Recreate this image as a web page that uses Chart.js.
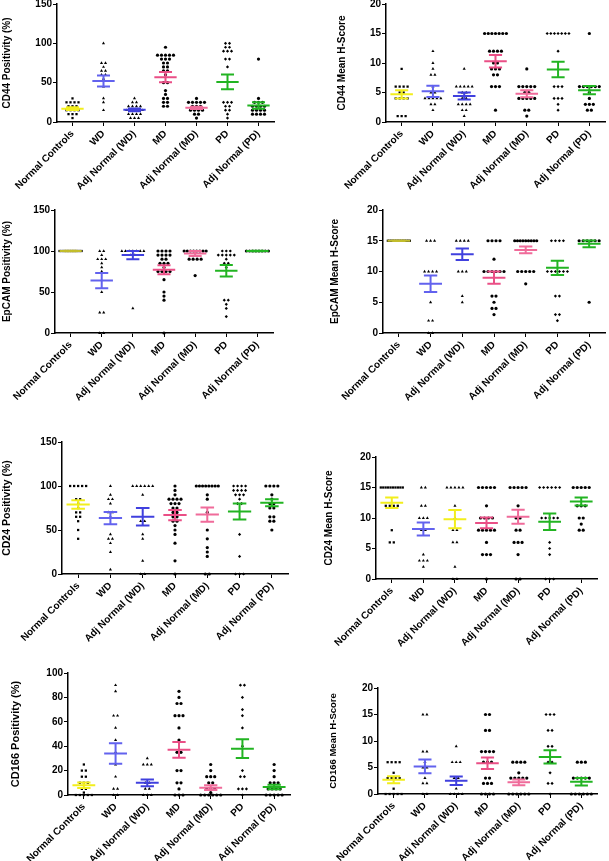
<!DOCTYPE html>
<html>
<head>
<meta charset="utf-8">
<script src="https://cdn.jsdelivr.net/npm/chart.js@4.4.1/dist/chart.umd.min.js"></script>
<style>
  body { margin: 0; background: #fff; }
  #page { position: relative; width: 609px; height: 861px; overflow: hidden; background: #fff; }
  #page canvas { position: absolute; }
</style>
</head>
<body>
<div id="page"></div>
<script>
// Groups shared by every panel
const groups = ['Normal Controls', 'WD', 'Adj Normal (WD)', 'MD', 'Adj Normal (MD)', 'PD', 'Adj Normal (PD)'];
const pointShapes = ['rect', 'triangle', 'triangle', 'circle', 'circle', 'rectRot', 'circle'];
const barColors = ['#f2ee1c', '#6262ee', '#4040de', '#ea4f86', '#f06b9a', '#22b422', '#22b422'];

// CD44 Positivity (%)
const cd44PosValues = [
  [30, 25, 25, 25, 25, 20, 20, 20, 15, 15, 15, 15, 10, 10, 10, 5],
  [100, 75, 75, 70, 65, 65, 60, 60, 55, 45, 30, 25, 15],
  [30, 25, 25, 20, 20, 20, 20, 15, 15, 15, 15, 15, 10, 10, 10, 10, 5, 5, 5],
  [95, 85, 85, 85, 85, 85, 80, 80, 80, 75, 75, 70, 70, 65, 65, 60, 50, 50, 40, 35, 30, 30, 25, 25, 20, 20],
  [30, 25, 25, 25, 25, 25, 20, 20, 20, 15, 15, 15, 15, 10, 10, 5],
  [100, 100, 95, 95, 90, 90, 90, 80, 80, 70, 25, 25, 25, 20, 20, 15, 15, 10, 5],
  [80, 30, 25, 25, 25, 20, 20, 20, 20, 15, 15, 15, 15, 10, 10, 10, 10]
];
const cd44PosMean = [17, 52, 15.5, 57, 18, 51, 21];
const cd44PosSem = [1.8, 7, 1.8, 6.5, 1.5, 9.5, 4];

// CD44 Mean H-Score
const cd44HValues = [
  [9, 6, 6, 6, 6, 5, 5, 4, 4, 4, 4, 1, 1, 1],
  [12, 10, 9, 8, 8, 6, 5, 5, 4, 4, 4, 4, 4, 3, 3, 2],
  [9, 6, 6, 6, 6, 6, 5, 5, 4, 4, 3, 3, 3, 3, 2, 2, 1],
  [15, 15, 15, 15, 15, 15, 15, 12, 12, 12, 12, 10, 10, 9, 9, 9, 8, 8, 6, 6, 6, 2],
  [9, 6, 6, 6, 6, 6, 5, 5, 4, 4, 4, 4, 4, 2, 2, 1],
  [15, 15, 15, 15, 15, 15, 15, 12, 6, 6, 6, 4, 4, 4, 3, 2],
  [15, 6, 6, 6, 6, 6, 6, 5, 4, 3, 3, 3, 2, 2]
];
const cd44HMean = [4.7, 5.2, 4.4, 10.3, 4.8, 8.9, 5.4];
const cd44HSem = [0.7, 0.95, 0.6, 1.05, 0.6, 1.3, 0.7];

// EpCAM Positivity (%)
const epcamPosValues = [
  [100, 100, 100, 100, 100, 100, 100, 100, 100, 100, 100, 100, 100, 100],
  [100, 100, 95, 90, 90, 90, 85, 80, 75, 50, 25, 25, 0, 0],
  [100, 100, 100, 100, 100, 100, 100, 95, 95, 30],
  [100, 100, 100, 100, 95, 95, 95, 95, 90, 90, 85, 85, 85, 80, 75, 75, 75, 75, 65, 50, 45, 40, 0],
  [100, 100, 100, 100, 100, 100, 100, 100, 90, 90, 90, 90, 70],
  [100, 100, 100, 95, 95, 95, 95, 95, 90, 85, 85, 80, 40, 40, 35, 30, 20],
  [100, 100, 100, 100, 100, 100, 100, 100]
];
const epcamPosMean = [100, 64, 95, 77, 97, 76, 100];
const epcamPosSem = [0.3, 9.3, 5, 5.5, 3, 7, 0.3];

// EpCAM Mean H-Score
const epcamHValues = [
  [15, 15, 15, 15, 15, 15, 15, 15, 15, 15, 15, 15, 15, 15],
  [15, 15, 15, 10, 10, 10, 10, 5, 2, 2, 0, 0],
  [15, 15, 15, 15, 10, 10, 10, 6, 5],
  [15, 15, 15, 15, 12, 10, 10, 10, 10, 10, 10, 6, 6, 5, 4, 4, 3],
  [15, 15, 15, 15, 15, 15, 15, 15, 15, 10, 10, 10, 10, 10, 8],
  [15, 15, 15, 15, 10, 10, 10, 10, 10, 10, 6, 6, 3, 3, 2],
  [15, 15, 15, 15, 15, 15, 5]
];
const epcamHMean = [15, 8, 12.8, 9, 13.5, 10.6, 14.5];
const epcamHSem = [0.05, 1.35, 0.95, 1, 0.55, 1.15, 0.55];

// CD24 Positivity (%)
const cd24PosValues = [
  [100, 100, 100, 100, 100, 85, 85, 80, 75, 70, 70, 65, 65, 60, 50, 40],
  [100, 90, 85, 85, 80, 70, 70, 65, 45, 40, 40, 35, 25, 5],
  [100, 100, 100, 100, 100, 100, 90, 60, 60, 45, 40, 15, 0, 0],
  [100, 95, 90, 85, 85, 85, 85, 80, 80, 80, 75, 75, 70, 70, 65, 65, 60, 60, 55, 50, 45, 35, 15, 0],
  [100, 100, 100, 100, 100, 100, 100, 100, 90, 85, 70, 50, 40, 30, 25, 20, 0, 0],
  [100, 100, 100, 100, 95, 95, 95, 95, 90, 90, 90, 85, 80, 80, 45, 20, 0, 0, 0],
  [100, 100, 100, 100, 90, 85, 80, 80, 75, 75, 65, 65, 60, 60, 50]
];
const cd24PosMean = [79, 63.5, 65, 67, 67.5, 71, 81];
const cd24PosSem = [4.8, 7, 10, 5.8, 8, 9, 4];

// CD24 Mean H-Score
const cd24HValues = [
  [15, 15, 15, 15, 15, 15, 15, 15, 15, 15, 12, 12, 12, 12, 8, 6, 6],
  [15, 15, 12, 12, 10, 10, 10, 8, 8, 4, 3, 3, 3, 2],
  [15, 15, 15, 15, 15, 12, 10, 8, 8, 6, 6, 2, 0, 0],
  [15, 15, 15, 15, 15, 12, 10, 10, 10, 10, 8, 8, 8, 8, 8, 6, 4, 4, 4, 0],
  [15, 15, 15, 15, 15, 12, 10, 10, 8, 8, 6, 6, 6, 4, 0, 0],
  [15, 15, 15, 15, 15, 15, 10, 10, 10, 10, 10, 6, 5, 4, 0, 0, 0],
  [15, 15, 15, 15, 15, 12, 12, 12, 10, 10, 9, 8, 8]
];
const cd24HMean = [12.5, 8.2, 9.8, 9.2, 10.2, 9.4, 12.7];
const cd24HSem = [0.85, 1.05, 1.5, 0.9, 1.15, 1.35, 0.65];

// CD166 Positivity (%)
const cd166PosValues = [
  [25, 20, 20, 15, 15, 10, 10, 10, 5, 5, 2, 0, 0, 0, 0, 0],
  [90, 85, 65, 65, 55, 45, 35, 25, 15, 5, 5, 0, 0],
  [30, 25, 25, 25, 10, 10, 5, 5, 0, 0, 0],
  [85, 80, 75, 75, 65, 65, 65, 55, 45, 35, 35, 20, 20, 10, 10, 5, 0, 0, 0],
  [25, 20, 15, 15, 15, 10, 10, 5, 5, 5, 2, 0, 0, 0, 0, 0, 0],
  [90, 90, 80, 70, 65, 55, 40, 20, 15, 15, 5, 5, 5, 0],
  [25, 20, 15, 10, 10, 10, 5, 5, 5, 5, 0, 0, 0, 0, 0]
];
const cd166PosMean = [8, 34, 10, 37, 6, 38, 6.5];
const cd166PosSem = [2.3, 8.4, 2.8, 6.5, 2, 7.6, 1.8];

// CD166 Mean H-Score
const cd166HValues = [
  [6, 6, 6, 6, 4, 3, 3, 3, 3, 1, 0, 0, 0, 0, 0],
  [15, 15, 8, 8, 6, 5, 5, 3, 2, 2, 0, 0],
  [9, 6, 6, 6, 3, 3, 1, 0, 0, 0, 0],
  [15, 15, 12, 12, 8, 8, 8, 8, 6, 6, 6, 3, 3, 2, 2, 2, 0, 0, 0, 0],
  [6, 6, 6, 6, 4, 3, 3, 3, 3, 3, 0, 0, 0, 0, 0, 0],
  [15, 15, 15, 12, 12, 9, 9, 6, 6, 4, 2, 2, 0],
  [6, 6, 6, 3, 3, 3, 3, 3, 0, 0, 0, 0, 0, 0]
];
const cd166HMean = [2.7, 5.2, 2.5, 5.8, 2.2, 7, 2.3];
const cd166HSem = [0.65, 1.3, 0.8, 1.1, 0.55, 1.25, 0.7];

// Panels: canvas box and plot area in page pixels
const panels = [
  { title: 'CD44 Positivity (%)', values: cd44PosValues, mean: cd44PosMean, sem: cd44PosSem, yMax: 150, step: 50,
    box: { x: 0, y: 0, w: 300, h: 200 }, plot: { l: 57, t: 4, r: 274, b: 122 }, titleX: 7, titleSize: 10 },
  { title: 'CD44 Mean H-Score', values: cd44HValues, mean: cd44HMean, sem: cd44HSem, yMax: 20, step: 5,
    box: { x: 300, y: 0, w: 309, h: 200 }, plot: { l: 386, t: 4, r: 607, b: 122 }, titleX: 42, titleSize: 10 },
  { title: 'EpCAM Positivity (%)', values: epcamPosValues, mean: epcamPosMean, sem: epcamPosSem, yMax: 150, step: 50,
    box: { x: 0, y: 200, w: 300, h: 215 }, plot: { l: 55, t: 210, r: 273, b: 333 }, titleX: 7, titleSize: 10,
    colors: ['#c2bd2c'] },
  { title: 'EpCAM Mean H-Score', values: epcamHValues, mean: epcamHMean, sem: epcamHSem, yMax: 20, step: 5,
    box: { x: 300, y: 200, w: 309, h: 215 }, plot: { l: 383, t: 210, r: 605, b: 333 }, titleX: 35, titleSize: 10,
    colors: ['#c2bd2c'] },
  { title: 'CD24 Positivity (%)', values: cd24PosValues, mean: cd24PosMean, sem: cd24PosSem, yMax: 150, step: 50,
    box: { x: 0, y: 420, w: 300, h: 240 }, plot: { l: 62, t: 442, r: 288, b: 574 }, titleX: 7, titleSize: 10.5 },
  { title: 'CD24 Mean H-Score', values: cd24HValues, mean: cd24HMean, sem: cd24HSem, yMax: 20, step: 5,
    box: { x: 300, y: 420, w: 309, h: 240 }, plot: { l: 376, t: 457, r: 597, b: 579 }, titleX: 29, titleSize: 10,
    colors: [null, null, '#f2ee1c'] },
  { title: 'CD166 Positivity (%)', values: cd166PosValues, mean: cd166PosMean, sem: cd166PosSem, yMax: 100, step: 20,
    box: { x: 0, y: 640, w: 300, h: 221 }, plot: { l: 68, t: 673, r: 290, b: 795 }, titleX: 16, titleSize: 11 },
  { title: 'CD166 Mean H-Score', values: cd166HValues, mean: cd166HMean, sem: cd166HSem, yMax: 20, step: 5,
    box: { x: 300, y: 640, w: 309, h: 221 }, plot: { l: 378, t: 688, r: 597, b: 794 }, titleX: 33, titleSize: 9.5 }
];

const fontFamily = '"Liberation Sans", Arial, sans-serif';

// spread equal values sideways like a dot plot
function spread(values, i, unitPx) {
  const counts = {}, seen = {};
  values.forEach(v => counts[v] = (counts[v] || 0) + 1);
  return values.map(v => {
    const n = counts[v];
    const k = seen[v] = (seen[v] === undefined ? 0 : seen[v] + 1);
    const gap = n > 1 ? Math.min(4, 22 / (n - 1)) : 0;
    return { x: i + (k - (n - 1) / 2) * gap / unitPx, y: v };
  });
}

// mean line with SEM whiskers, drawn through the chart scales
function errorBars(mean, sem, colors) {
  return {
    id: 'errorBars',
    afterDatasetsDraw(chart) {
      const { ctx, scales: { x, y } } = chart;
      ctx.save();
      ctx.lineWidth = 2;
      mean.forEach((m, i) => {
        const s = sem[i];
        ctx.strokeStyle = colors[i];
        ctx.beginPath();
        ctx.moveTo(x.getPixelForValue(i - 0.36), y.getPixelForValue(m));
        ctx.lineTo(x.getPixelForValue(i + 0.36), y.getPixelForValue(m));
        [m + s, m - s].forEach(v => {
          ctx.moveTo(x.getPixelForValue(i - 0.21), y.getPixelForValue(v));
          ctx.lineTo(x.getPixelForValue(i + 0.21), y.getPixelForValue(v));
        });
        ctx.moveTo(x.getPixelForValue(i), y.getPixelForValue(m + s));
        ctx.lineTo(x.getPixelForValue(i), y.getPixelForValue(m - s));
        ctx.stroke();
      });
      ctx.restore();
    }
  };
}

const page = document.getElementById('page');

panels.forEach(p => {
  const canvas = document.createElement('canvas');
  canvas.width = p.box.w;
  canvas.height = p.box.h;
  canvas.style.left = p.box.x + 'px';
  canvas.style.top = p.box.y + 'px';
  canvas.style.width = p.box.w + 'px';
  canvas.style.height = p.box.h + 'px';
  page.appendChild(canvas);

  const unitPx = (p.plot.r - p.plot.l) / groups.length;
  const colors = barColors.map((c, i) => (p.colors && p.colors[i]) || c);
  const tickFont = { family: fontFamily, size: 10, weight: 'bold' };

  new Chart(canvas, {
    type: 'scatter',
    data: {
      datasets: p.values.map((vals, i) => ({
        data: spread(vals, i, unitPx),
        pointStyle: pointShapes[i],
        pointRadius: pointShapes[i] === 'triangle' ? 1.8 : 1.6,
        backgroundColor: '#000',
        borderColor: '#000',
        borderWidth: 0,
        clip: false
      }))
    },
    options: {
      responsive: false,
      animation: false,
      devicePixelRatio: 1,
      layout: {
        padding: { top: p.plot.t - p.box.y, right: p.box.x + p.box.w - p.plot.r, left: 0, bottom: 0 }
      },
      plugins: {
        legend: { display: false },
        tooltip: { enabled: false }
      },
      scales: {
        x: {
          type: 'linear',
          min: -0.5,
          max: 6.5,
          afterBuildTicks: s => { s.ticks = groups.map((g, i) => ({ value: i })); },
          afterFit: s => {
            s.height = p.box.y + p.box.h - p.plot.b;
            s.paddingLeft = 0;
            s.paddingRight = 0;
          },
          ticks: {
            callback: v => groups[v],
            autoSkip: false,
            minRotation: 45,
            maxRotation: 45,
            padding: 2,
            color: '#000',
            font: tickFont
          },
          grid: { display: true, drawOnChartArea: false, drawTicks: true, tickLength: 4, color: '#000', lineWidth: 1 },
          border: { display: true, color: '#000', width: 1.5 }
        },
        y: {
          min: 0,
          max: p.yMax,
          afterFit: s => {
            s.width = p.plot.l - p.box.x;
            s.paddingTop = 0;
            s.paddingBottom = 0;
          },
          ticks: { stepSize: p.step, padding: 1, color: '#000', font: tickFont },
          title: {
            display: true,
            text: p.title,
            color: '#000',
            font: { family: fontFamily, size: p.titleSize, weight: 'bold' },
            padding: { top: p.titleX - p.titleSize * 0.6, bottom: 0 }
          },
          grid: { display: true, drawOnChartArea: false, drawTicks: true, tickLength: 4, color: '#000', lineWidth: 1 },
          border: { display: true, color: '#000', width: 1.5 }
        }
      }
    },
    plugins: [errorBars(p.mean, p.sem, colors)]
  });
});
</script>
</body>
</html>
